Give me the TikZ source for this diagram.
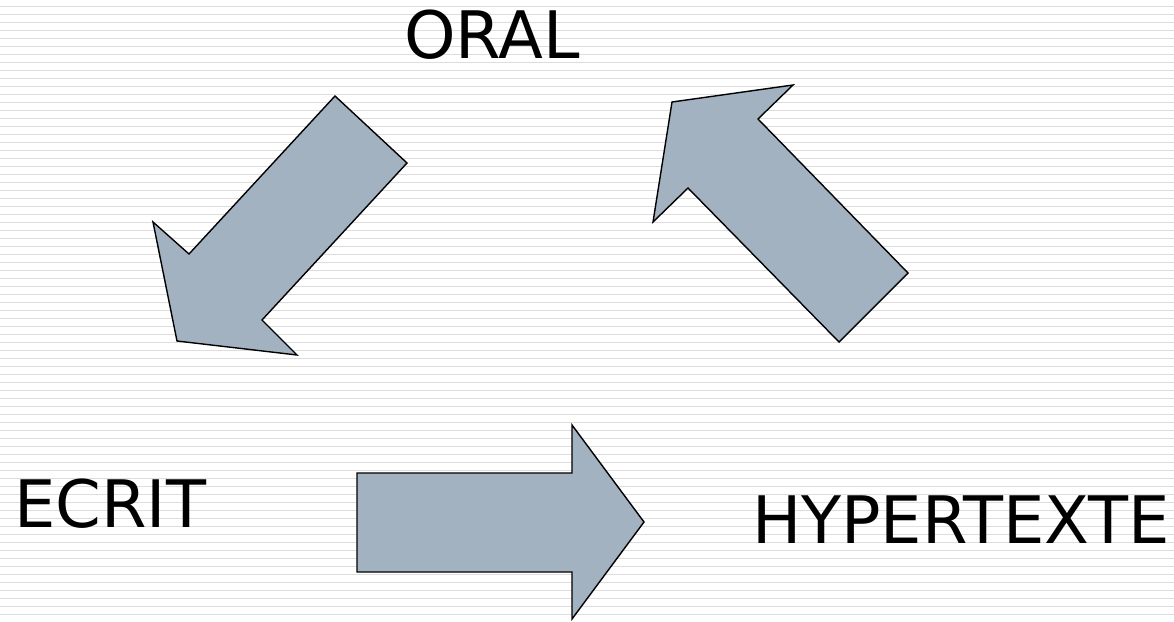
\documentclass[tikz,border=0pt]{standalone}
\usepackage{fontspec}
\setmainfont{DejaVu Sans}
\definecolor{arrowfill}{HTML}{A3B2C0}
\definecolor{stripe}{HTML}{DDDDDD}
\tikzstyle{blockarrow} = [draw=black,line width=1.4pt,fill=arrowfill,line join=miter]
\tikzstyle{word} = [inner sep=0pt,font=\fontsize{65.5}{72}\selectfont]

\begin{document}
\begin{tikzpicture}[x=1pt,y=-1pt]
   \useasboundingbox (0,0) rectangle (1174,621);
   \fill[white] (0,0) rectangle (1174,621);
   \foreach \y in {6.5,14.5,...,621} \draw[stripe,line width=1.4pt] (0,\y) -- (1174,\y);

   \node[word,anchor=base] (oral) at (492,58) {ORAL};
   \node[word,anchor=base west] (ecrit) at (14,527) {ECRIT};
   \node[word,anchor=base west] (hyper) at (752,543) {HYPERTEXTE};

   % oral -> ecrit
   \draw[blockarrow] (335,96) -- (407,163) -- (262,320) -- (297,355) -- (177,341)
      -- (153,222) -- (189,254) -- cycle;
   % hypertexte -> oral
   \draw[blockarrow] (908,273) -- (839,342) -- (688,188) -- (653,222) -- (672,102)
      -- (793,85) -- (758,119) -- cycle;
   % ecrit -> hypertexte
   \draw[blockarrow] (357,473) -- (572,473) -- (572,425) -- (644,522) -- (572,619)
      -- (572,572) -- (357,572) -- cycle;
  \end{tikzpicture}
\end{document}
